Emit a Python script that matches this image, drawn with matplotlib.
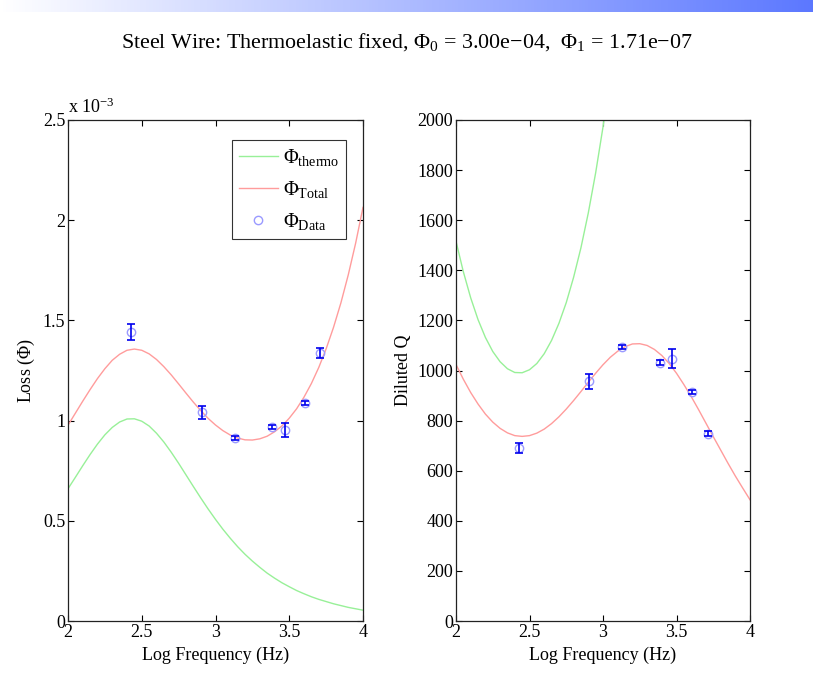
import matplotlib
matplotlib.use("Agg")
import matplotlib.pyplot as plt
import numpy as np

plt.rcParams['font.family'] = ['Liberation Serif', 'DejaVu Serif']
plt.rcParams['mathtext.fontset'] = 'custom'
plt.rcParams['mathtext.rm'] = 'Liberation Serif'
plt.rcParams['mathtext.it'] = 'Liberation Serif:italic'
plt.rcParams['mathtext.bf'] = 'Liberation Serif:bold'

# model curves (log10 frequency, step 0.05)
logf = [2.00, 2.05, 2.10, 2.15, 2.20, 2.25, 2.30, 2.35, 2.40, 2.45,
        2.50, 2.55, 2.60, 2.65, 2.70, 2.75, 2.80, 2.85, 2.90, 2.95,
        3.00, 3.05, 3.10, 3.15, 3.20, 3.25, 3.30, 3.35, 3.40, 3.45,
        3.50, 3.55, 3.60, 3.65, 3.70, 3.75, 3.80, 3.85, 3.90, 3.95, 4.00]
# loss, units of 1e-3
loss_thermo = [0.660, 0.717, 0.775, 0.831, 0.883, 0.929, 0.966, 0.993, 1.008, 1.009,
               0.997, 0.973, 0.937, 0.893, 0.842, 0.787, 0.729, 0.671, 0.614, 0.559,
               0.507, 0.458, 0.413, 0.371, 0.333, 0.299, 0.268, 0.239, 0.214, 0.191,
               0.171, 0.152, 0.136, 0.121, 0.108, 0.097, 0.086, 0.077, 0.068, 0.061, 0.054]
loss_total = [0.977, 1.037, 1.097, 1.155, 1.210, 1.259, 1.301, 1.331, 1.351, 1.357,
              1.351, 1.333, 1.305, 1.269, 1.228, 1.183, 1.137, 1.092, 1.050, 1.011,
              0.978, 0.950, 0.928, 0.913, 0.904, 0.903, 0.909, 0.922, 0.944, 0.973,
              1.012, 1.059, 1.117, 1.185, 1.265, 1.358, 1.465, 1.587, 1.727, 1.885, 2.064]
# diluted Q
q_thermo = [1516, 1394, 1290, 1203, 1132, 1076, 1035, 1007, 992, 991,
            1003, 1028, 1067, 1120, 1188, 1271, 1372, 1490, 1629, 1789,
            1972, 2182]
q_total = [1024, 965, 912, 866, 826, 794, 769, 751, 740, 737,
           740, 750, 766, 788, 815, 846, 880, 916, 953, 989,
           1023, 1053, 1077, 1095, 1106, 1107, 1100, 1084, 1060, 1028,
           989, 944, 896, 844, 790, 736, 683, 630, 579, 531, 484]

# measured points
data_logf = [2.429, 2.906, 3.130, 3.385, 3.471, 3.607, 3.711]
data_loss = [1.441, 1.041, 0.913, 0.968, 0.953, 1.089, 1.337]
data_loss_err = [0.040, 0.032, 0.010, 0.010, 0.036, 0.010, 0.023]
data_q = [692, 957, 1094, 1031, 1047, 915, 748]
data_q_err = [20, 31, 8, 10, 39, 8, 10]

red = '#ff9c9c'
green = '#98f098'
circ = '#9a9aff'
bar = '#0000ee'

fig = plt.figure(figsize=(8.13, 6.85), dpi=100)

# slide banner gradient
band = fig.add_axes([0, 1 - 12 / 685, 1, 12 / 685])
grad = np.linspace(0, 1, 256)
rgb = np.zeros((1, 256, 3))
rgb[0, :, 0] = 1 - grad * (1 - 0.36)
rgb[0, :, 1] = 1 - grad * (1 - 0.47)
rgb[0, :, 2] = 1.0
band.imshow(rgb, aspect='auto')
band.axis('off')

fig.text(0.5, 1 - 42 / 685,
         r'Steel Wire: Thermoelastic fixed, $\Phi_0$ = 3.00e$-$04,  $\Phi_1$ = 1.71e$-$07',
         ha='center', va='center', fontsize=15.8)

ax1 = fig.add_axes([68 / 813, 64 / 685, 295 / 813, 501 / 685])
ax2 = fig.add_axes([456 / 813, 64 / 685, 294 / 813, 501 / 685])

# left: loss
ax1.plot(logf, loss_thermo, color=green, lw=1, label=r'$\Phi_{\rm thermo}$')
ax1.plot(logf, loss_total, color=red, lw=1, label=r'$\Phi_{\rm Total}$')
ax1.plot(data_logf, data_loss, 'o', ms=6, mfc='none', mec=circ, mew=1,
         label=r'$\Phi_{\rm Data}$')
ax1.errorbar(data_logf, data_loss, yerr=data_loss_err, fmt='none', ecolor=bar,
             elinewidth=1.2, capsize=3, capthick=1.2)
ax1.set_ylim(0, 2.5)
ax1.set_yticks([0, 0.5, 1, 1.5, 2, 2.5])
ax1.set_yticklabels(['0', '0.5', '1', '1.5', '2', '2.5'])
ax1.set_ylabel(r'Loss ($\Phi$)', fontsize=13)
ax1.text(0.0, 1.005, r'x 10$^{-3}$', transform=ax1.transAxes, fontsize=13,
         ha='left', va='bottom')
leg = ax1.legend(loc='upper right', bbox_to_anchor=(0.942, 0.96), fontsize=14.5,
                 frameon=True, fancybox=False, edgecolor='black', borderaxespad=0,
                 handlelength=1.9, handletextpad=0.25, labelspacing=0.55,
                 borderpad=0.35)
leg.get_frame().set_linewidth(0.8)

# right: diluted Q
ax2.plot(logf[:len(q_thermo)], q_thermo, color=green, lw=1)
ax2.plot(logf, q_total, color=red, lw=1)
ax2.plot(data_logf, data_q, 'o', ms=6, mfc='none', mec=circ, mew=1)
ax2.errorbar(data_logf, data_q, yerr=data_q_err, fmt='none', ecolor=bar,
             elinewidth=1.2, capsize=3, capthick=1.2)
ax2.set_ylim(0, 2000)
ax2.set_yticks(range(0, 2001, 200))
ax2.set_ylabel('Diluted Q', fontsize=13)

for ax in (ax1, ax2):
    ax.set_xlim(2, 4)
    ax.set_xticks([2, 2.5, 3, 3.5, 4])
    ax.set_xticklabels(['2', '2.5', '3', '3.5', '4'])
    ax.set_xlabel('Log Frequency (Hz)', fontsize=13)
    ax.tick_params(direction='in', top=True, right=True, labelsize=13,
                   length=4, width=0.8, pad=2)
    for s in ax.spines.values():
        s.set_linewidth(0.9)
        s.set_color('#222222')

fig.savefig('out.png', dpi=100)
